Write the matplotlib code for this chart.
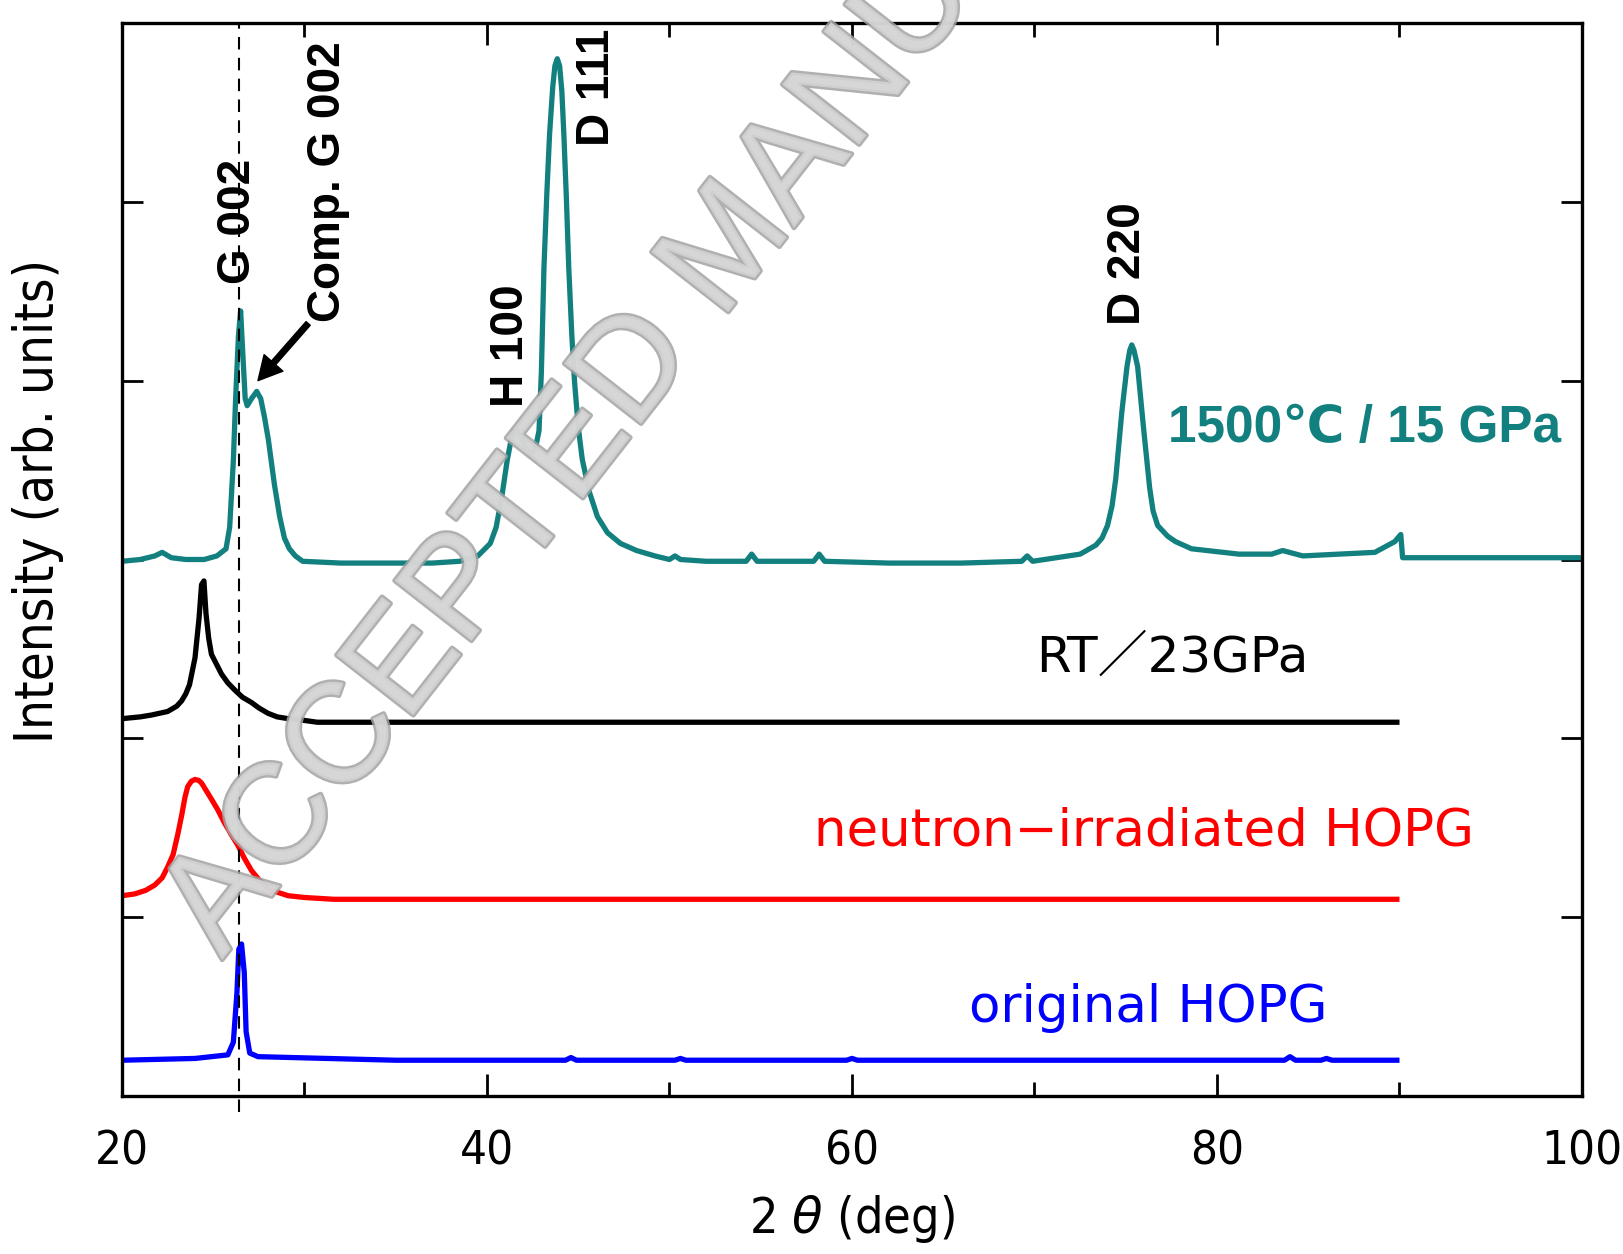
import matplotlib
matplotlib.use("Agg")
import matplotlib.pyplot as plt
import matplotlib.patheffects as pe
from matplotlib.ticker import MultipleLocator

# 1500C / 15 GPa (teal)
teal_x = [20.0, 21.0, 21.8, 22.2, 22.7, 23.5, 24.5, 25.2, 25.7, 25.9, 26.1, 26.23,
          26.38, 26.5, 26.62, 26.75, 26.86, 27.1, 27.38, 27.6, 27.8, 28.02, 28.35,
          28.64, 28.9, 29.17, 29.5, 29.9, 32.0, 35.0, 37.0, 38.5, 39.5, 40.18, 40.5,
          40.81, 41.1, 41.34, 41.5, 41.65, 41.9, 42.15, 42.38, 42.65, 42.85, 42.98,
          43.12, 43.28, 43.43, 43.6, 43.72, 43.85, 43.98, 44.1, 44.21, 44.35, 44.48,
          44.65, 44.8, 45.0, 45.22, 45.6, 46.05, 46.6, 47.31, 48.2, 49.2, 50.0, 50.3,
          50.6, 52.0, 54.2, 54.5, 54.8, 56.0, 57.9, 58.2, 58.5, 62.0, 66.0, 69.3,
          69.6, 69.9, 72.5, 73.36, 73.7, 74.0, 74.25, 74.45, 74.78, 75.07, 75.22,
          75.33, 75.45, 75.65, 75.98, 76.31, 76.5, 76.75, 77.3, 77.73, 78.6, 81.2,
          83.0, 83.6, 84.7, 88.65, 89.74, 90.07, 90.17, 95.0, 100.0]
teal_y = [2.99, 3.00, 3.02, 3.04, 3.01, 3.00, 3.00, 3.02, 3.06, 3.18, 3.55, 3.91,
          4.25, 4.39, 4.15, 3.90, 3.86, 3.90, 3.94, 3.90, 3.80, 3.67, 3.42,
          3.24, 3.12, 3.06, 3.02, 2.99, 2.98, 2.98, 2.98, 2.99, 3.02, 3.09, 3.18,
          3.35, 3.55, 3.68, 3.72, 3.72, 3.68, 3.62, 3.59, 3.62, 3.72, 4.05,
          4.63, 5.05, 5.38, 5.64, 5.76, 5.80, 5.76, 5.62, 5.38, 5.02, 4.63,
          4.25, 3.99, 3.74, 3.56, 3.38, 3.24, 3.15, 3.09, 3.05, 3.02, 3.00, 3.02,
          3.00, 2.99, 2.99, 3.03, 2.99, 2.99, 2.99, 3.03, 2.99, 2.98, 2.98, 2.99,
          3.02, 2.99, 3.03, 3.08, 3.12, 3.19, 3.30, 3.45, 3.82, 4.08, 4.17,
          4.20, 4.17, 4.08, 3.73, 3.40, 3.27, 3.19, 3.13, 3.10, 3.06, 3.03,
          3.03, 3.05, 3.02, 3.04, 3.10, 3.14, 3.01, 3.01, 3.01]

# RT / 23 GPa (black)
rt_x = [20.0, 21.0, 21.6, 22.5, 23.0, 23.27, 23.5, 23.7, 24.0, 24.22, 24.36, 24.49,
        24.6, 24.75, 24.9, 25.2, 25.45, 25.8, 26.18, 26.6, 27.1, 27.5, 28.0, 28.5,
        29.1, 30.0, 30.7, 32.0, 33.45, 40.0, 50.0, 60.0, 70.0, 80.0, 90.0]
rt_y = [2.11, 2.12, 2.13, 2.15, 2.18, 2.21, 2.25, 2.30, 2.45, 2.67, 2.86, 2.88,
        2.70, 2.56, 2.47, 2.41, 2.36, 2.31, 2.27, 2.23, 2.20, 2.17, 2.14, 2.12,
        2.11, 2.10, 2.09, 2.09, 2.09, 2.09, 2.09, 2.09, 2.09, 2.09, 2.09]

# neutron-irradiated HOPG (red)
irr_x = [20.0, 20.7, 21.3, 21.8, 22.2, 22.5, 22.8, 23.05, 23.27, 23.45, 23.6, 23.8,
         24.0, 24.2, 24.36, 24.6, 24.9, 25.25, 25.6, 26.0, 26.36, 26.7, 27.1, 27.5,
         28.0, 28.5, 29.1, 30.0, 31.6, 37.0, 50.0, 60.0, 70.0, 80.0, 90.0]
irr_y = [1.12, 1.13, 1.15, 1.18, 1.22, 1.28, 1.35, 1.46, 1.57, 1.67, 1.73, 1.76,
         1.77, 1.765, 1.75, 1.71, 1.66, 1.60, 1.53, 1.46, 1.40, 1.33, 1.26, 1.21,
         1.16, 1.14, 1.12, 1.11, 1.10, 1.10, 1.10, 1.10, 1.10, 1.10, 1.10]

# original HOPG (blue)
hopg_x = [20.0, 24.0, 25.8, 26.1, 26.3, 26.4, 26.55, 26.7, 26.8, 27.0, 27.45, 35.0,
          44.3, 44.6, 44.9, 50.3, 50.6, 50.9, 59.7, 60.0, 60.3, 83.7, 84.0, 84.3,
          85.7, 86.0, 86.3, 90.0]
hopg_y = [0.20, 0.21, 0.23, 0.30, 0.58, 0.82, 0.85, 0.69, 0.36, 0.24, 0.22, 0.20,
          0.20, 0.215, 0.20, 0.20, 0.21, 0.20, 0.20, 0.21, 0.20, 0.20, 0.22, 0.20,
          0.20, 0.21, 0.20, 0.20]

# peak labels: (text, x, y of the lower end)
peak_labels = [("G 002", 26.35, 4.54), ("Comp. G 002", 31.3, 4.33),
               ("H 100", 41.3, 3.85), ("D 111", 46.05, 5.31), ("D 220", 75.15, 4.31)]

TEAL = "#138080"
SANS = ["Liberation Sans", "DejaVu Sans", "Noto Sans CJK JP"]
WIDE = ["DejaVu Sans", "Noto Sans CJK JP"]

fig = plt.figure(figsize=(16.24, 12.54), dpi=100)
ax = fig.add_axes([122 / 1624, 158 / 1254, 1460 / 1624, 1073 / 1254])

for xs, ys, c in [(teal_x, teal_y, TEAL), (rt_x, rt_y, "black"),
                  (irr_x, irr_y, "#ff0000"), (hopg_x, hopg_y, "#0000ff")]:
    ax.plot(xs, ys, color=c, lw=3.8, solid_joinstyle="round", solid_capstyle="butt")

ax.axvline(26.42, ymin=-0.015, ymax=1, color="black", lw=1.5,
           ls=(0, (6, 4)), clip_on=False, zorder=5)

for txt, x, y in peak_labels:
    ax.text(x, y, txt, rotation=90, ha="center", va="bottom", fontsize=33,
            fontweight="bold", family=SANS, color="black", zorder=12)

ax.annotate("", xy=(27.45, 4.0), xytext=(30.2, 4.32),
            arrowprops=dict(facecolor="black", edgecolor="black", width=4,
                            headwidth=18, headlength=17, shrink=0))

ax.text(77.3, 3.73, "1500℃ / 15 GPa", color=TEAL, fontsize=37, fontweight="bold",
        family=SANS, ha="left", va="center")
ax.text(70.1, 2.45, "RT／23GPa", color="black", fontsize=36, family=WIDE,
        ha="left", va="center")
ax.text(57.9, 1.48, "neutron\u2212irradiated HOPG", color="#ff0000", fontsize=37,
        family=WIDE, ha="left", va="center")
ax.text(66.4, 0.49, "original HOPG", color="#0000ff", fontsize=37, family=WIDE,
        ha="left", va="center")

ax.set_xlim(20, 100)
ax.set_ylim(0, 6.0)
ax.xaxis.set_major_locator(MultipleLocator(20))
ax.xaxis.set_minor_locator(MultipleLocator(10))
ax.yaxis.set_major_locator(MultipleLocator(1))
ax.tick_params(axis="x", which="major", direction="in", length=16, width=2,
               top=True, pad=24, labelsize=34)
ax.tick_params(axis="x", which="minor", direction="in", length=10, width=2, top=True)
ax.tick_params(axis="y", which="major", direction="in", length=15, width=2,
               right=True, labelleft=False)
for lab in ax.get_xticklabels():
    lab.set_family("DejaVu Sans")
    lab.set_stretch("condensed")
for sp in ax.spines.values():
    sp.set_linewidth(2.4)

ax.set_xlabel(r"2 $\theta$ (deg)", fontsize=36, family="DejaVu Sans", stretch="condensed")
ax.xaxis.set_label_coords(0.5, -0.090)
ax.set_ylabel("Intensity (arb. units)", fontsize=38, family="DejaVu Sans",
              stretch="condensed")
ax.yaxis.set_label_coords(-0.040, 0.555)

# watermark
wm = fig.text(222 / 1624, 1 - 960 / 1254, "ACCEPTED MANUSCRIPT", rotation=52.0,
              rotation_mode="anchor", ha="left", va="baseline", fontsize=102,
              family=SANS, color="#d6d6d6", alpha=0.85, zorder=10)
wm.set_path_effects([pe.Stroke(linewidth=3.5, foreground="#a2a2a2"), pe.Normal()])

fig.savefig("out.png", dpi=100)
